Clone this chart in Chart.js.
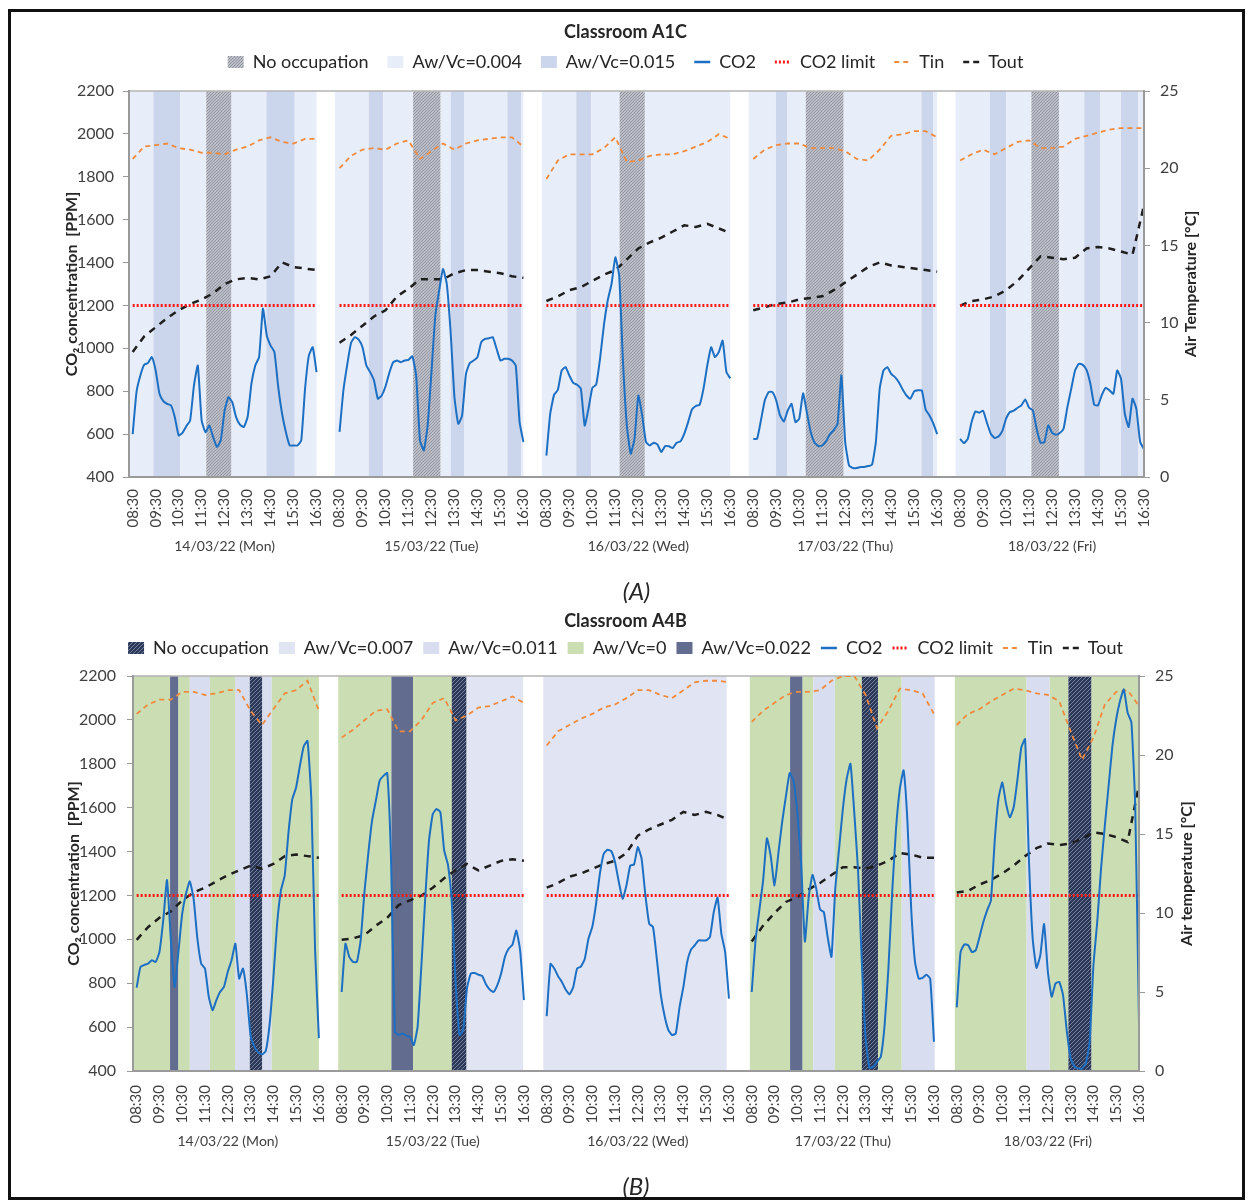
<!DOCTYPE html>
<html>
<head>
<meta charset="utf-8">
<script src="https://cdn.jsdelivr.net/npm/chart.js@4.4.1/dist/chart.umd.min.js"></script>
<style>
  html, body { margin: 0; padding: 0; background: #fff; }
  body { width: 1251px; height: 1203px; position: relative; overflow: hidden; }
  .wrap { position: absolute; left: 0; width: 1251px; }
  #frame { position: absolute; left: 8px; top: 9px; width: 1237px; height: 1191px;
           border: 3px solid #111; box-sizing: border-box; pointer-events: none; }
</style>
</head>
<body>
<div class="wrap" style="top:0"><canvas id="chartA" width="1251" height="607"></canvas></div>
<div class="wrap" style="top:607px"><canvas id="chartB" width="1251" height="596"></canvas></div>
<div id="frame"></div>
<script>
// ---- shared axis data ----
const DAYS = ['14/03/22 (Mon)', '15/03/22 (Tue)', '16/03/22 (Wed)', '17/03/22 (Thu)', '18/03/22 (Fri)'];
const HOURS = ['08:30', '09:30', '10:30', '11:30', '12:30', '13:30', '14:30', '15:30', '16:30'];
const CO2_LIMIT = 1200;
const CO2_STEP = 10;   // minutes between CO2 readings, from 08:30
const T_STEP = 30;     // minutes between temperature readings, from 08:30

// ---- Classroom A1C ----
const co2A = [
  [600, 796, 873, 923, 932, 959, 897, 788, 754, 741, 734, 679, 594, 606, 637, 664, 827, 920, 664, 609,
   640, 586, 540, 571, 710, 772, 749, 679, 644, 633, 679, 835, 920, 959, 1185, 1060, 1013, 982, 819, 695,
   609, 547, 547, 547, 571, 811, 967, 1005, 889],
  [610, 803, 923, 1025, 1052, 1041, 1005, 920, 889, 850, 765, 780, 822, 886, 935, 943, 935, 943, 946, 963,
   873, 571, 524, 641, 889, 1153, 1269, 1370, 1300, 1075, 772, 648, 687, 881, 932, 943, 959, 1029, 1044, 1047,
   1052, 998, 943, 951, 951, 943, 920, 656, 563],
  [500, 695, 783, 807, 897, 912, 873, 839, 830, 811, 640, 720, 816, 831, 951, 1106, 1223, 1300, 1424, 1339,
   935, 640, 509, 578, 780, 687, 563, 547, 560, 551, 516, 544, 543, 535, 560, 566, 602, 656, 715, 731,
   737, 811, 920, 1005, 959, 982, 1036, 889, 860],
  [578, 578, 664, 757, 796, 796, 757, 687, 659, 710, 741, 656, 672, 790, 700, 610, 560, 544, 547, 566,
   599, 619, 648, 873, 563, 454, 442, 442, 447, 447, 451, 457, 563, 811, 897, 912, 881, 866, 842, 808,
   780, 765, 799, 804, 804, 715, 687, 650, 600],
  [578, 558, 578, 656, 706, 700, 709, 653, 602, 582, 589, 614, 672, 703, 709, 723, 734, 762, 723, 710,
   622, 560, 563, 641, 606, 597, 605, 625, 726, 811, 897, 928, 923, 900, 835, 737, 734, 783, 816, 804,
   788, 897, 858, 695, 633, 765, 718, 563, 530]
];
const tinA = [
  [20.6, 21.4, 21.5, 21.6, 21.3, 21.2, 21.0, 21.0, 20.9, 21.2, 21.4, 21.8, 22.0, 21.7, 21.6, 21.9, 21.9],
  [20.0, 20.8, 21.2, 21.3, 21.2, 21.6, 21.8, 20.6, 21.1, 21.6, 21.2, 21.6, 21.8, 21.9, 22.0, 22.0, 21.4],
  [19.3, 20.5, 20.9, 20.9, 20.9, 21.3, 22.0, 20.4, 20.5, 20.8, 20.9, 20.9, 21.1, 21.4, 21.7, 22.2, 21.9],
  [20.6, 21.2, 21.5, 21.6, 21.6, 21.3, 21.3, 21.3, 21.1, 20.6, 20.5, 21.2, 22.1, 22.2, 22.4, 22.4, 22.0],
  [20.5, 20.9, 21.2, 20.9, 21.3, 21.7, 21.8, 21.3, 21.3, 21.4, 21.9, 22.1, 22.3, 22.5, 22.6, 22.6, 22.6]
];
const toutA = [
  [8.1, 9.1, 9.7, 10.3, 10.8, 11.2, 11.5, 11.9, 12.5, 12.8, 12.9, 12.8, 13.0, 13.9, 13.6, 13.5, 13.4],
  [8.7, 9.2, 9.8, 10.4, 10.8, 11.7, 12.2, 12.8, 12.8, 12.8, 13.2, 13.4, 13.4, 13.3, 13.2, 13.0, 12.9],
  [11.4, 11.7, 12.1, 12.3, 12.7, 13.1, 13.4, 14.1, 14.8, 15.2, 15.5, 15.9, 16.3, 16.2, 16.4, 16.1, 15.8],
  [10.8, 11.0, 11.2, 11.3, 11.5, 11.6, 11.7, 12.1, 12.6, 13.1, 13.6, 13.9, 13.7, 13.6, 13.5, 13.4, 13.3],
  [11.1, 11.4, 11.5, 11.7, 12.1, 12.7, 13.5, 14.3, 14.2, 14.1, 14.2, 14.8, 14.9, 14.8, 14.6, 14.4, 17.6]
];
const bandNamesA = ['No occupation', 'Aw/Vc=0.004', 'Aw/Vc=0.015'];
// [day, from, to, condition index]
const bandsA = [
  [0, '08:18', '09:24', 1], [0, '09:24', '10:34', 2], [0, '10:34', '11:42', 1], [0, '11:42', '12:48', 0],
  [0, '12:48', '14:19', 1], [0, '14:19', '15:33', 2], [0, '15:33', '16:30', 1],
  [1, '08:18', '09:46', 1], [1, '09:46', '10:24', 2], [1, '10:24', '11:42', 1], [1, '11:42', '12:54', 0],
  [1, '12:54', '13:20', 1], [1, '13:20', '13:56', 2], [1, '13:56', '15:48', 1], [1, '15:48', '16:24', 2],
  [1, '16:24', '16:30', 1],
  [2, '08:18', '09:48', 1], [2, '09:48', '10:27', 2], [2, '10:27', '11:41', 1], [2, '11:41', '12:47', 0],
  [2, '12:47', '16:30', 1],
  [3, '08:18', '09:29', 1], [3, '09:29', '09:58', 2], [3, '09:58', '10:47', 1], [3, '10:47', '12:26', 0],
  [3, '12:26', '15:49', 1], [3, '15:49', '16:20', 2], [3, '16:20', '16:30', 1],
  [4, '08:18', '09:48', 1], [4, '09:48', '10:30', 2], [4, '10:30', '11:36', 1], [4, '11:36', '12:48', 0],
  [4, '12:48', '13:54', 1], [4, '13:54', '14:36', 2], [4, '14:36', '15:30', 1], [4, '15:30', '16:15', 2],
  [4, '16:15', '16:35', 1]
];

// ---- Classroom A4B ----
const co2B = [
  [780, 874, 883, 889, 905, 897, 942, 1086, 1270, 1000, 783, 942, 1117, 1208, 1264, 1185, 1003, 889, 867, 738,
   677, 723, 761, 783, 852, 905, 980, 821, 867, 753, 564, 511, 485, 476, 491, 609, 821, 1071, 1223, 1291,
   1488, 1639, 1692, 1791, 1879, 1904, 1639, 950, 550],
  [760, 980, 920, 897, 897, 995, 1215, 1389, 1541, 1632, 1723, 1745, 1758, 1367, 579, 564, 571, 561, 556, 518,
   602, 882, 1185, 1450, 1571, 1594, 1579, 1405, 1339, 1170, 806, 564, 586, 776, 844, 847, 839, 833, 795, 771,
   760, 791, 844, 920, 958, 976, 1040, 950, 723],
  [650, 888, 867, 832, 806, 771, 749, 783, 867, 876, 909, 1003, 1056, 1162, 1298, 1389, 1408, 1402, 1351, 1261,
   1185, 1245, 1336, 1341, 1420, 1367, 1200, 1071, 1056, 912, 753, 655, 589, 564, 571, 692, 783, 897, 953, 973,
   995, 995, 995, 1011, 1124, 1190, 1026, 942, 730],
  [760, 995, 1132, 1268, 1460, 1380, 1245, 1389, 1533, 1651, 1758, 1723, 1579, 1351, 990, 1192, 1294, 1230, 1136, 1124,
   1010, 920, 1230, 1412, 1594, 1730, 1800, 1579, 1314, 897, 549, 415, 420, 442, 465, 609, 867, 1215, 1503, 1685,
   1770, 1541, 1139, 897, 821, 824, 839, 821, 533],
  [690, 942, 977, 973, 942, 950, 1011, 1079, 1132, 1177, 1450, 1642, 1715, 1617, 1556, 1602, 1730, 1874, 1912, 1367,
   1003, 870, 927, 1070, 852, 738, 799, 806, 745, 579, 458, 420, 412, 412, 435, 533, 882, 1079, 1321, 1518,
   1700, 1882, 2003, 2086, 2139, 2033, 1988, 1609, 620]
];
const tinB = [
  [22.6, 23.2, 23.5, 23.5, 24.0, 24.0, 23.8, 23.9, 24.1, 24.1, 22.8, 21.9, 22.9, 23.9, 24.1, 24.7, 22.8],
  [21.1, 21.6, 22.2, 22.8, 22.9, 21.5, 21.5, 22.2, 23.3, 23.6, 22.2, 22.5, 23.0, 23.1, 23.4, 23.7, 23.3],
  [20.6, 21.5, 21.9, 22.3, 22.6, 23.0, 23.2, 23.6, 24.1, 24.1, 23.8, 23.6, 24.1, 24.6, 24.7, 24.7, 24.6],
  [22.1, 22.8, 23.3, 23.8, 24.0, 24.0, 24.1, 24.7, 25.0, 25.0, 23.8, 21.7, 22.8, 24.2, 24.1, 23.9, 22.6],
  [21.9, 22.6, 22.9, 23.4, 23.8, 24.2, 24.1, 23.9, 23.8, 23.4, 21.5, 19.7, 21.1, 23.2, 24.0, 24.1, 23.1]
];
const toutB = [
  [8.3, 9.1, 9.7, 10.1, 10.8, 11.3, 11.6, 12.0, 12.4, 12.7, 13.0, 12.8, 13.1, 13.6, 13.7, 13.6, 13.5],
  [8.3, 8.4, 8.6, 9.2, 9.7, 10.5, 10.8, 11.1, 11.6, 12.2, 12.7, 13.1, 12.7, 13.0, 13.3, 13.4, 13.3],
  [11.6, 11.9, 12.3, 12.5, 12.8, 13.1, 13.3, 13.8, 14.9, 15.3, 15.6, 15.9, 16.4, 16.2, 16.4, 16.2, 15.9],
  [8.2, 9.2, 10.0, 10.7, 11.0, 11.5, 11.9, 12.4, 12.9, 12.9, 12.8, 13.0, 13.3, 13.8, 13.7, 13.5, 13.5],
  [11.3, 11.4, 11.8, 12.1, 12.5, 13.0, 13.6, 14.1, 14.4, 14.3, 14.4, 14.7, 15.1, 15.0, 14.8, 14.5, 18.1]
];
const bandNamesB = ['No occupation', 'Aw/Vc=0.007', 'Aw/Vc=0.011', 'Aw/Vc=0', 'Aw/Vc=0.022'];
const bandsB = [
  [0, '08:18', '09:58', 3], [0, '09:58', '10:20', 4], [0, '10:20', '10:50', 3], [0, '10:50', '11:43', 2],
  [0, '11:43', '12:49', 3], [0, '12:49', '13:28', 2], [0, '13:28', '14:01', 0], [0, '14:01', '14:26', 2],
  [0, '14:26', '16:30', 3],
  [1, '08:21', '10:41', 3], [1, '10:41', '11:38', 4], [1, '11:38', '13:20', 3], [1, '13:20', '13:59', 0],
  [1, '13:59', '16:28', 1],
  [2, '08:21', '16:24', 1],
  [3, '08:25', '10:11', 3], [3, '10:11', '10:44', 4], [3, '10:44', '11:12', 3], [3, '11:12', '12:09', 2],
  [3, '12:09', '13:20', 3], [3, '13:20', '14:03', 0], [3, '14:03', '15:05', 3], [3, '15:05', '16:32', 2],
  [4, '08:25', '11:34', 3], [4, '11:34', '12:35', 2], [4, '12:35', '13:24', 3], [4, '13:24', '14:25', 0],
  [4, '14:25', '16:35', 3]
];

// ---- drawing ----
const FONT = "Lato, 'Noto Sans', sans-serif";
const INK = '#262626';
const AXIS = '#9a9a9a';
const X_MIN = -0.16, X_MAX = 44;
Chart.defaults.font.family = FONT;
Chart.defaults.color = INK;

const COLORS = { co2: '#1c6fc2', limit: '#ff1414', tin: '#f08a3e', tout: '#1e1e1e' };

function hatch(bg, fg, size) {
  const c = document.createElement('canvas');
  c.width = c.height = size;
  const g = c.getContext('2d');
  g.fillStyle = bg;
  g.fillRect(0, 0, size, size);
  g.strokeStyle = fg;
  g.lineWidth = 1;
  g.beginPath();
  g.moveTo(0, size); g.lineTo(size, 0);
  g.moveTo(-size / 2, size / 2); g.lineTo(size / 2, -size / 2);
  g.moveTo(size / 2, size * 1.5); g.lineTo(size * 1.5, size / 2);
  g.stroke();
  return g.createPattern(c, 'repeat');
}

// hours since 08:30 of day 0, one hour of gap between days
const toX = (day, time) => {
  const [h, m] = time.split(':').map(Number);
  return day * 9 + h + m / 60 - 8.5;
};

function series(days, stepMin) {
  const pts = [];
  days.forEach((vals, d) => {
    vals.forEach((v, k) => pts.push({ x: d * 9 + k * stepMin / 60, y: v }));
    pts.push({ x: d * 9 + 8.5, y: null });
  });
  return pts;
}

function limitSeries() {
  const pts = [];
  DAYS.forEach((_, d) => {
    pts.push({ x: d * 9, y: CO2_LIMIT }, { x: d * 9 + 8, y: CO2_LIMIT }, { x: d * 9 + 8.5, y: null });
  });
  return pts;
}

function bandsPlugin(bands, fills) {
  return {
    id: 'bands',
    beforeDraw(chart) {
      const { ctx, chartArea: a, scales: { x } } = chart;
      ctx.save();
      ctx.beginPath();
      ctx.rect(a.left, a.top, a.width, a.height);
      ctx.clip();
      bands.forEach(([d, t0, t1, type]) => {
        const x0 = x.getPixelForValue(toX(d, t0));
        const x1 = x.getPixelForValue(toX(d, t1));
        ctx.fillStyle = fills[type];
        ctx.fillRect(x0, a.top, x1 - x0, a.height);
      });
      ctx.restore();
      ctx.save();
      ctx.strokeStyle = '#b4b4b4';
      ctx.lineWidth = 1.5;
      ctx.beginPath();
      ctx.moveTo(a.left, a.top);
      ctx.lineTo(a.right, a.top);
      ctx.stroke();
      ctx.restore();
    }
  };
}

function sideTitlePlugin(text, dx) {
  return {
    id: 'sideTitle',
    afterDraw(chart) {
      const { ctx, chartArea: a, scales: { y2 } } = chart;
      ctx.save();
      ctx.translate(y2.left + dx, (a.top + a.bottom) / 2);
      ctx.rotate(-Math.PI / 2);
      ctx.font = `bold 16px ${FONT}`;
      ctx.fillStyle = INK;
      ctx.textAlign = 'center';
      ctx.textBaseline = 'middle';
      ctx.fillText(text, 0, 0);
      ctx.restore();
    }
  };
}

function drawChart(id, o) {
  const tickFont = { family: FONT, size: 16 };
  const legendItems = [
    ...o.bandNames.map((name, i) => ({
      text: name, fillStyle: o.fills[i], strokeStyle: 'rgba(0,0,0,0)', lineWidth: 0, pointStyle: 'rect', fontColor: INK
    })),
    { text: 'CO2', fillStyle: 'rgba(0,0,0,0)', strokeStyle: COLORS.co2, lineWidth: 2.5, lineDash: [], pointStyle: 'line', fontColor: INK },
    { text: 'CO2 limit', fillStyle: 'rgba(0,0,0,0)', strokeStyle: COLORS.limit, lineWidth: 3, lineDash: [2, 2], pointStyle: 'line', fontColor: INK },
    { text: 'Tin', fillStyle: 'rgba(0,0,0,0)', strokeStyle: COLORS.tin, lineWidth: 2, lineDash: [5, 4], pointStyle: 'line', fontColor: INK },
    { text: 'Tout', fillStyle: 'rgba(0,0,0,0)', strokeStyle: COLORS.tout, lineWidth: 2.5, lineDash: [6, 4], pointStyle: 'line', fontColor: INK }
  ];
  const line = (label, data, yAxisID, color, width, dash, tension) => ({
    label, data, xAxisID: 'x', yAxisID, borderColor: color, borderWidth: width,
    borderDash: dash, pointRadius: 0, tension
  });

  return new Chart(document.getElementById(id), {
    type: 'line',
    data: {
      datasets: [
        line('CO2', series(o.co2, CO2_STEP), 'y', COLORS.co2, 2, [], 0.15),
        line('CO2 limit', limitSeries(), 'y', COLORS.limit, 3, [2, 2], 0),
        line('Tin', series(o.tin, T_STEP), 'y2', COLORS.tin, 1.8, [5, 4], 0),
        line('Tout', series(o.tout, T_STEP), 'y2', COLORS.tout, 2.5, [7, 6], 0)
      ]
    },
    options: {
      responsive: false,
      animation: false,
      devicePixelRatio: 1,
      layout: { padding: 0 },
      plugins: {
        tooltip: { enabled: false },
        title: {
          display: true, text: o.title, color: INK,
          font: { family: FONT, size: 18, weight: 'bold' },
          padding: { top: o.titleTop, bottom: o.titleBottom }
        },
        legend: {
          display: true, position: 'top',
          labels: {
            usePointStyle: true, pointStyleWidth: 16, boxHeight: 12, padding: o.legendPad,
            font: { family: FONT, size: 18 }, color: INK,
            generateLabels: () => legendItems
          }
        }
      },
      scales: {
        x: {
          type: 'linear', position: 'bottom', min: X_MIN, max: X_MAX, weight: 0,
          grid: { display: false, drawTicks: false },
          border: { display: true, color: AXIS, width: 2, z: 1 },
          ticks: {
            autoSkip: false, minRotation: 90, maxRotation: 90, padding: o.xPad,
            color: '#404040', font: { family: FONT, size: 15 },
            callback: v => HOURS[Math.round(v) % 9]
          },
          afterBuildTicks: s => {
            const t = [];
            DAYS.forEach((_, d) => HOURS.forEach((_, i) => t.push({ value: d * 9 + i })));
            s.ticks = t;
          },
          afterFit: s => { s.height = o.xH; }
        },
        xDay: {
          type: 'linear', axis: 'x', position: 'bottom', min: X_MIN, max: X_MAX, weight: 1,
          grid: { display: false, drawTicks: false }, border: { display: false },
          ticks: {
            autoSkip: false, maxRotation: 0, padding: o.dayPad, color: '#404040',
            font: { family: FONT, size: 14 },
            callback: v => DAYS[Math.round((v - 4) / 9)]
          },
          afterBuildTicks: s => { s.ticks = DAYS.map((_, d) => ({ value: d * 9 + 4 })); },
          title: {
            display: true, text: o.panel, color: INK,
            font: { family: FONT, size: 24, style: 'italic' },
            padding: { top: 0, bottom: o.panelPad }
          },
          afterFit: s => { s.height = o.dayH; }
        },
        gap: {
          type: 'linear', axis: 'x', position: 'top', display: true, min: X_MIN, max: X_MAX,
          grid: { display: false, drawTicks: false }, border: { display: false }, ticks: { display: false },
          afterFit: s => { s.height = o.gapH; }
        },
        y: {
          type: 'linear', position: 'left', min: 400, max: 2200,
          ticks: { stepSize: 200, padding: o.yPad, color: '#404040', font: tickFont, callback: v => String(v) },
          grid: { drawOnChartArea: false, tickLength: 6, color: AXIS },
          border: { color: AXIS, width: 2, z: 1 },
          title: {
            display: true, text: 'CO\u2082 concentration  [PPM]', color: INK,
            font: { family: FONT, size: 16, weight: 'bold' },
            padding: { top: o.yTitlePad, bottom: 0 }
          },
          afterFit: s => { s.width = o.left; }
        },
        y2: {
          type: 'linear', position: 'right', min: 0, max: 25,
          ticks: { stepSize: 5, padding: 10, color: '#404040', font: tickFont, callback: v => String(v) },
          grid: { drawOnChartArea: false, tickLength: 6, color: AXIS },
          border: { color: AXIS, width: 2, z: 1 },
          afterFit: s => { s.width = 1251 - o.right; }
        }
      }
    },
    plugins: [bandsPlugin(o.bands, o.fills), sideTitlePlugin(o.rightTitle, o.rightTitleDx)]
  });
}

drawChart('chartA', {
  title: 'Classroom A1C', panel: '(A)', rightTitle: 'Air Temperature [\u00B0C]', rightTitleDx: 47,
  co2: co2A, tin: tinA, tout: toutA, bands: bandsA, bandNames: bandNamesA,
  fills: [hatch('#bcbec7', '#9497a1', 3), '#e8eef9', '#cbd5eb'],
  titleTop: 21.2, titleBottom: -8.8, legendPad: 19, gapH: 10,
  left: 129, right: 1144, yPad: 9, yTitlePad: 62.4,
  xPad: 12, xH: 60, dayPad: 1, dayH: 70, panelPad: 0
});

drawChart('chartB', {
  title: 'Classroom A4B', panel: '(B)', rightTitle: 'Air temperature [\u00B0C]', rightTitleDx: 48,
  co2: co2B, tin: tinB, tout: toutB, bands: bandsB, bandNames: bandNamesB,
  fills: [hatch('#2c3858', '#78829f', 4), '#e1e5f3', '#d8deef', '#cbddb2', '#626c8f'],
  titleTop: 3.2, titleBottom: -2.8, legendPad: 10, gapH: 9,
  left: 133, right: 1139, yPad: 11, yTitlePad: 64.4,
  xPad: 14, xH: 60, dayPad: 2, dayH: 72, panelPad: 1.6
});
</script>
</body>
</html>
